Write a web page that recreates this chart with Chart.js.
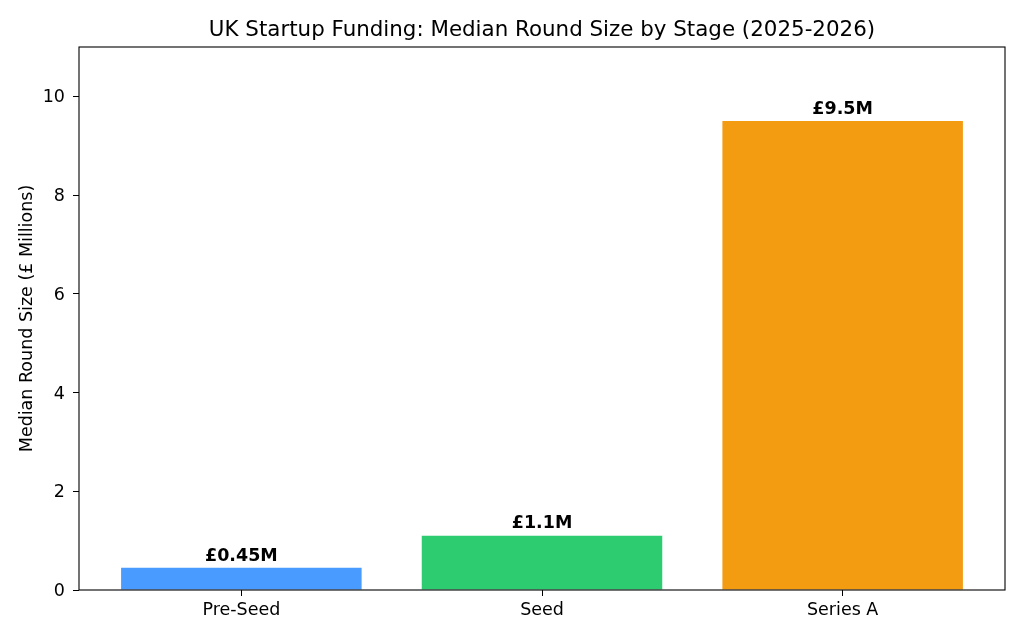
<!DOCTYPE html>
<html><head><meta charset="utf-8">
<script src="https://cdn.jsdelivr.net/npm/chart.js@4"></script>
<style>html,body{margin:0;padding:0;background:#fff}#wrap{width:1024px;height:640px}</style>
</head><body><div id="wrap"><canvas id="c" width="1024" height="640"></canvas></div>
<script>
const categories = ["Pre-Seed", "Seed", "Series A"];
const values = [0.45, 1.1, 9.5];
const valueLabels = ["£0.45M", "£1.1M", "£9.5M"];
const colors = ["#4a9bff", "#2ecc71", "#f39c12"];
const yTicks = [0, 2, 4, 6, 8, 10];
const titleText = "UK Startup Funding: Median Round Size by Stage (2025-2026)";
const yLabel = "Median Round Size (£ Millions)";

const FONT = "'DejaVu Sans', sans-serif";
const FS = 17.5;

const deco = {
  id: 'deco',
  afterDraw(chart) {
    const ctx = chart.ctx, a = chart.chartArea;
    ctx.save();
    ctx.strokeStyle = '#000'; ctx.lineWidth = 1.1;
    ctx.strokeRect(a.left, a.top, a.right - a.left, a.bottom - a.top);
    ctx.fillStyle = '#000';
    ctx.font = "21.4px " + FONT;
    ctx.textAlign = 'center'; ctx.textBaseline = 'middle';
    ctx.fillText(titleText, (a.left + a.right) / 2, 30);
    ctx.save();
    ctx.translate(27, (a.top + a.bottom) / 2);
    ctx.rotate(-Math.PI / 2);
    ctx.font = FS + "px " + FONT;
    ctx.fillText(yLabel, 0, 0);
    ctx.restore();
    const meta = chart.getDatasetMeta(0);
    ctx.font = "bold " + FS + "px " + FONT;
    ctx.textBaseline = 'bottom';
    meta.data.forEach((bar, i) => {
      ctx.fillText(valueLabels[i], bar.x, bar.y - 3);
    });
    ctx.restore();
  }
};

new Chart(document.getElementById('c'), {
  type: 'bar',
  data: {
    datasets: [{
      data: values.map((v, i) => ({ x: i, y: v })),
      backgroundColor: colors,
      borderWidth: 0,
      barPercentage: 0.8,
      categoryPercentage: 1.0
    }]
  },
  options: {
    responsive: false,
    animation: false,
    devicePixelRatio: 1,
    layout: { padding: { top: 47, right: 19, left: 0, bottom: 0 } },
    plugins: { legend: { display: false }, tooltip: { enabled: false }, title: { display: false } },
    scales: {
      x: {
        type: 'linear',
        offset: false,
        min: -0.54, max: 2.54,
        afterBuildTicks(s) { s.ticks = categories.map((_, i) => ({ value: i })); },
        afterFit(s) { s.height = 50; },
        grid: { display: true, offset: false, drawOnChartArea: false, drawTicks: true, tickLength: 6, color: '#000', tickColor: '#000' },
        border: { display: false },
        ticks: {
          color: '#000', font: { family: FONT, size: FS }, padding: 4,
          maxRotation: 0, autoSkip: false,
          callback: (v) => categories[v] ?? ''
        }
      },
      y: {
        min: 0, max: 11,
        afterBuildTicks(s) { s.ticks = yTicks.map(v => ({ value: v })); },
        afterFit(s) { s.width = 79; },
        grid: { display: true, drawOnChartArea: false, drawTicks: true, tickLength: 6, color: '#000', tickColor: '#000' },
        border: { display: false },
        ticks: { color: '#000', font: { family: FONT, size: FS }, padding: 8, labelOffset: 1.5 }
      }
    }
  },
  plugins: [deco]
});
</script></body></html>
